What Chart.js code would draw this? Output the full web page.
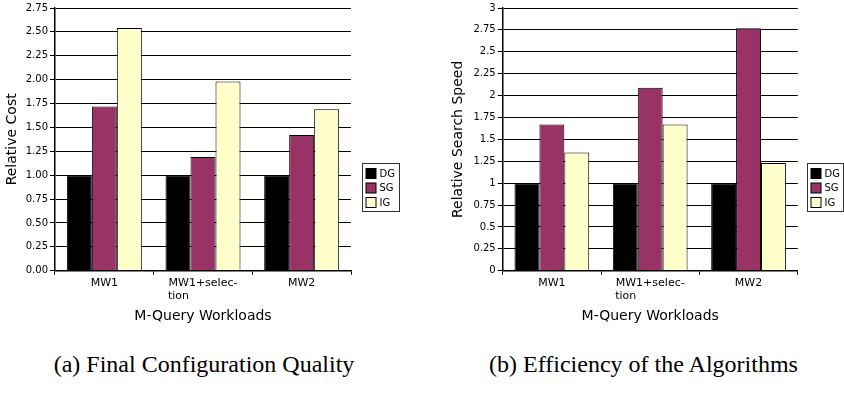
<!DOCTYPE html>
<html lang="en">
<head>
  <meta charset="UTF-8">
  <title>M-Query Workloads</title>
  <script src="https://cdn.jsdelivr.net/npm/chart.js"></script>
  <style>
    body { margin: 0; background: #fff; }
    .wrap { position: relative; width: 844px; height: 395px; }
    canvas { position: absolute; top: 0; }
    .caption {
      position: absolute; top: 351px; width: 360px; text-align: center;
      font-family: "Liberation Serif", serif; font-size: 24px; color: #000;
    }
  </style>
</head>
<body>
  <div class="wrap">
    <canvas id="costChart" width="420" height="330" style="left:0"></canvas>
    <canvas id="speedChart" width="424" height="330" style="left:420px"></canvas>
    <div class="caption" style="left:24px">(a) Final Configuration Quality</div>
    <div class="caption" style="left:463.5px">(b) Efficiency of the Algorithms</div>
  </div>

  <script>
    // data
    const categories = ['MW1', 'MW1+selection', 'MW2'];
    const tickLabels = ['MW1', ['MW1+selec-', 'tion              '], 'MW2'];
    const seriesNames = ['DG', 'SG', 'IG'];
    const seriesColors = ['#000000', '#993366', '#ffffcc'];

    const costDG = [1.00, 1.00, 1.00];
    const costSG = [1.72, 1.19, 1.42];
    const costIG = [2.54, 1.98, 1.69];

    const speedDG = [1.00, 1.00, 1.00];
    const speedSG = [1.67, 2.09, 2.77];
    const speedIG = [1.35, 1.67, 1.23];

    Chart.defaults.font.family = 'DejaVu Sans';
    Chart.defaults.color = '#000';

    // legend drawn as a bordered box like the original
    const boxLegend = {
      id: 'boxLegend',
      afterDraw(chart, args, opts) {
        const ctx = chart.ctx;
        ctx.save();
        ctx.strokeStyle = '#333';
        ctx.lineWidth = 1;
        ctx.strokeRect(opts.x, opts.y, opts.w, opts.h);
        ctx.font = '10px "DejaVu Sans"';
        ctx.textBaseline = 'middle';
        chart.data.datasets.forEach((ds, i) => {
          const y = opts.y + 5 + i * 14.5;
          ctx.fillStyle = ds.backgroundColor;
          ctx.fillRect(opts.x + 3.5, y, 10, 10);
          ctx.strokeStyle = '#000';
          ctx.strokeRect(opts.x + 3.5, y, 10, 10);
          ctx.fillStyle = '#000';
          ctx.fillText(ds.label, opts.x + 17, y + 5.5);
        });
        ctx.restore();
      }
    };

    function makeChart(id, series, yTitle, yMax, tickFmt, box) {
      const datasets = series.map((vals, i) => ({
        label: seriesNames[i],
        data: vals,
        backgroundColor: seriesColors[i],
        borderColor: '#000',
        borderWidth: 1,
        borderSkipped: 'bottom',
        categoryPercentage: 0.76,
        barPercentage: 1
      }));
      return new Chart(document.getElementById(id), {
        type: 'bar',
        data: { labels: categories, datasets: datasets },
        plugins: [boxLegend],
        options: {
          responsive: false,
          animation: false,
          layout: { padding: { left: 0, right: box.right, top: 7.5, bottom: 0 } },
          plugins: {
            legend: { display: false },
            tooltip: { enabled: false },
            boxLegend: box.legend
          },
          scales: {
            x: {
              ticks: {
                font: { size: 11 }, padding: 2, autoSkip: false, maxRotation: 0,
                callback: (v, i) => tickLabels[i]
              },
              grid: { offset: true, drawOnChartArea: false, drawTicks: true, tickLength: 4, color: '#000' },
              border: { color: '#000', width: 1.5 },
              title: { display: true, text: 'M-Query Workloads', font: { size: 14 }, padding: { top: 2, bottom: 5.5 } },
              afterFit: s => { s.height = 59.3; }
            },
            y: {
              min: 0, max: yMax,
              ticks: { stepSize: 0.25, font: { size: 10 }, padding: 2, callback: tickFmt },
              grid: { color: '#000', lineWidth: 1, tickLength: 5 },
              border: { color: '#000', width: 1.5 },
              title: { display: true, text: yTitle, font: { size: 14 }, padding: { top: box.titlePad, bottom: 0 } },
              afterFit: s => { s.width = box.axisWidth; }
            }
          }
        }
      });
    }

    makeChart('costChart', [costDG, costSG, costIG], 'Relative Cost', 2.75,
      v => v.toFixed(2),
      { right: 69, axisWidth: 55, titlePad: 4, legend: { x: 362.5, y: 163.5, w: 37, h: 48 } });

    makeChart('speedChart', [speedDG, speedSG, speedIG], 'Relative Search Speed', 3,
      v => String(Math.round(v * 100) / 100),
      { right: 46.3, axisWidth: 82.7, titlePad: 29.6, legend: { x: 387.5, y: 163.5, w: 36, h: 48 } });
  </script>
</body>
</html>
